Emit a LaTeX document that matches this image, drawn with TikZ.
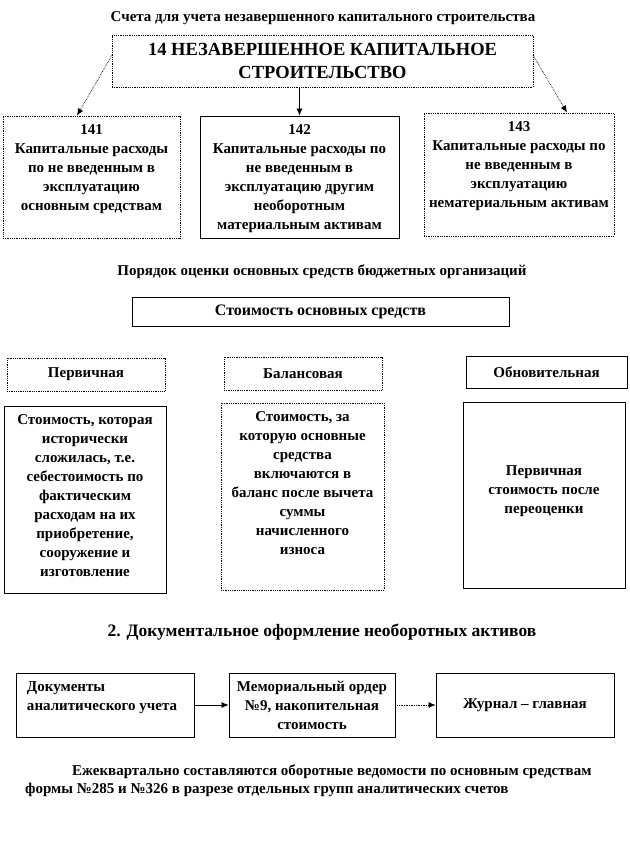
\documentclass[tikz,border=0pt]{standalone}
\usepackage{fontspec}
\setmainfont{Liberation Serif}
\usetikzlibrary{arrows.meta}
\newcommand{\topbox}[3]{\parbox[c][#1][t]{#2}{\centering #3}}
\newcommand{\topboxl}[3]{\parbox[c][#1][t]{#2}{\raggedright #3}}
\begin{document}
\begin{tikzpicture}[x=1pt,y=-1pt,
  box/.style={draw, line width=0.8pt, inner sep=0pt, align=center, font=\bfseries\fontsize{15}{19}\selectfont},
  dbox/.style={box, densely dotted},
  ttl/.style={inner sep=0pt, font=\bfseries\fontsize{15}{19}\selectfont},
  arr/.style={-{Latex[length=7pt,width=6pt]}, line width=0.7pt},
  darr/.style={arr, densely dotted}]
\useasboundingbox (0,0) rectangle (629,845);

% --- section 1
\node[ttl] (t1) at (323,18) {Счета для учета незавершенного капитального строительства};
\node[dbox, minimum width=421, minimum height=52, font=\bfseries\fontsize{18.5}{23}\selectfont] (m) at (322.5,61)
  {14 НЕЗАВЕРШЕННОЕ КАПИТАЛЬНОЕ\\СТРОИТЕЛЬСТВО};
\node[dbox] (a141) at (91.5,177) {\topbox{122pt}{177pt}{\vspace*{9pt}141\\Капитальные расходы\\по не введенным в\\эксплуатацию\\основным средствам}};
\node[box] (a142) at (299.5,177) {\topbox{122pt}{199pt}{\vspace*{9pt}142\\Капитальные расходы по\\не введенным в\\эксплуатацию другим\\необоротным\\материальным активам}};
\node[dbox] (a143) at (519,174.5) {\topbox{123pt}{190pt}{\vspace*{9pt}143\\Капитальные расходы по\\не введенным в\\эксплуатацию\\нематериальным активам}};
\coordinate (mL) at (112,55);
\coordinate (mR) at (533,55);
\draw[darr] (mL) -- (a141.north -| 77,0);
\draw[arr] (m.south -| a142.north) -- (a142.north);
\draw[darr] (mR) -- (a143.north -| 567,0);

% --- section 2
\node[ttl] (t2) at (322,272) {Порядок оценки основных средств бюджетных организаций};
\node[box, minimum width=377, minimum height=29, font=\bfseries\fontsize{16}{19}\selectfont] (cost) at (320.5,311.5) {Стоимость основных средств};
\node[dbox, minimum width=158, minimum height=33] (p1) at (86,374.5) {Первичная};
\node[dbox, minimum width=158, minimum height=33] (p2) at (303,373.5) {Балансовая};
\node[box, minimum width=161, minimum height=32] (p3) at (546.5,372) {Обновительная};
\node[box] (q1) at (85,499.5) {\topbox{187pt}{162pt}{\vspace*{9pt}Стоимость, которая\\исторически\\сложилась, т.е.\\себестоимость по\\фактическим\\расходам на их\\приобретение,\\сооружение и\\изготовление}};
\node[dbox] (q2) at (302.5,496.5) {\topbox{187pt}{163pt}{\vspace*{9pt}Стоимость, за\\которую основные\\средства\\включаются в\\баланс после вычета\\суммы\\начисленного\\износа}};
\node[box] (q3) at (544,495) {\topbox{186pt}{162pt}{\vspace*{64pt}Первичная\\стоимость после\\переоценки}};

% --- section 3
\node[ttl, font=\bfseries\fontsize{17.5}{21}\selectfont] (t3) at (322,632) {2. Документальное оформление необоротных активов};
\node[box] (d1) at (105,705) {\hspace*{11pt}\topboxl{64pt}{167pt}{\vspace*{9pt}Документы\\аналитического учета}};
\node[box, minimum width=166, minimum height=64] (d2) at (312,705) {Мемориальный ордер\\№9, накопительная\\стоимость};
\node[box, minimum width=178, minimum height=64] (d3) at (525,705) {Журнал – главная};
\draw[arr] (d1) -- (d2);
\draw[darr] (d2) -- (d3);

\node[ttl, anchor=west] (n1) at (72,772) {Ежеквартально составляются оборотные ведомости по основным средствам};
\node[ttl, anchor=west] (n2) at (25,790) {формы №285 и №326 в разрезе отдельных групп аналитических счетов};
\end{tikzpicture}
\end{document}
